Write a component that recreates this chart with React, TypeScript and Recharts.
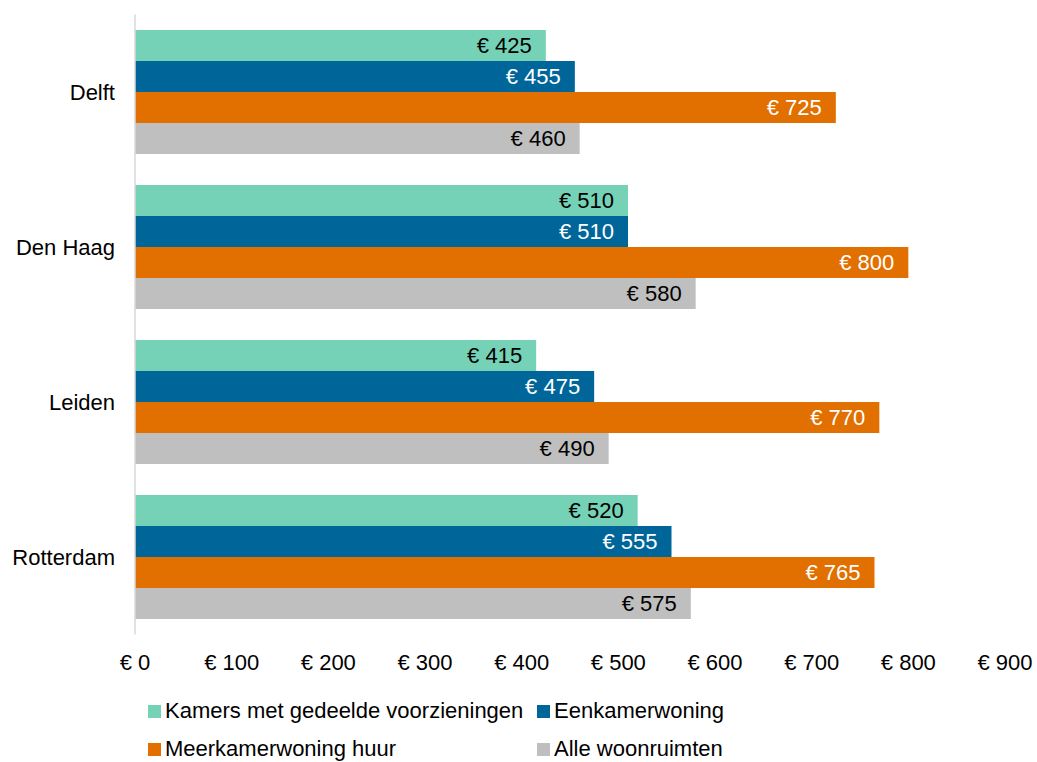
import { Bar, BarChart, LabelList, XAxis, YAxis } from "recharts";

const cities = ["Delft", "Den Haag", "Leiden", "Rotterdam"];
const kamers = [425, 510, 415, 520];
const eenkamer = [455, 510, 475, 555];
const meerkamer = [725, 800, 770, 765];
const alle = [460, 580, 490, 575];
const xTicks = [0, 100, 200, 300, 400, 500, 600, 700, 800, 900];

const series = [
  { key: "kamers", name: "Kamers met gedeelde voorzieningen", color: "#76D2B6", text: "#000000" },
  { key: "eenkamer", name: "Eenkamerwoning", color: "#00669A", text: "#FFFFFF" },
  { key: "meerkamer", name: "Meerkamerwoning huur", color: "#E17000", text: "#FFFFFF" },
  { key: "alle", name: "Alle woonruimten", color: "#BFBFBF", text: "#000000" },
];

const data = cities.map((city, i) => ({
  city,
  kamers: kamers[i],
  eenkamer: eenkamer[i],
  meerkamer: meerkamer[i],
  alle: alle[i],
}));

const FONT = "'Liberation Sans', Arial, sans-serif";
const FS = 22;
const euro = (v: unknown) => `€ ${v}`;

// legend positions: two columns, two rows
const legendPos = [
  { left: 148, top: 704 },
  { left: 537, top: 704 },
  { left: 148, top: 742 },
  { left: 537, top: 742 },
];

export default function App() {
  return (
    <div style={{ position: "absolute", left: 0, top: 0, width: 1037, height: 762, fontFamily: FONT, background: "#fff" }}>
      <BarChart
        width={1037}
        height={762}
        data={data}
        layout="vertical"
        margin={{ top: 14.5, right: 32, left: 0, bottom: 97.5 }}
        barCategoryGap="10%"
        barGap={0}
      >
        <XAxis
          type="number"
          domain={[0, 900]}
          ticks={xTicks}
          axisLine={false}
          tickLine={false}
          tickSize={0}
          tickMargin={20}
          height={30}
          tickFormatter={euro}
          tick={{ fill: "#000", fontSize: FS, fontFamily: FONT }}
        />
        <YAxis
          type="category"
          dataKey="city"
          width={135}
          axisLine={{ stroke: "#D9D9D9", strokeWidth: 1.5 }}
          tickLine={false}
          tickSize={0}
          tickMargin={20}
          tick={{ fill: "#000", fontSize: FS, fontFamily: FONT }}
        />
        {series.map((s) => (
          <Bar key={s.key} dataKey={s.key} name={s.name} fill={s.color} isAnimationActive={false}>
            <LabelList
              dataKey={s.key}
              position="insideRight"
              offset={14}
              formatter={euro}
              fill={s.text}
              style={{ fontSize: FS, fontFamily: FONT }}
            />
          </Bar>
        ))}
      </BarChart>
      {series.map((s, i) => (
        <div
          key={s.key}
          style={{
            position: "absolute",
            left: legendPos[i].left,
            top: legendPos[i].top,
            display: "flex",
            alignItems: "center",
            fontSize: FS,
            lineHeight: "14px",
            color: "#000",
            whiteSpace: "nowrap",
          }}
        >
          <span style={{ width: 13, height: 13, background: s.color, marginRight: 4, display: "inline-block" }} />
          {s.name}
        </div>
      ))}
    </div>
  );
}
